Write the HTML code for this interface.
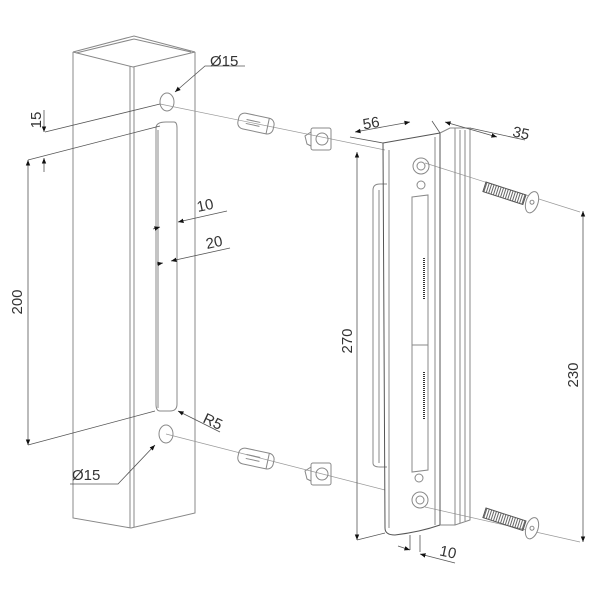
<!DOCTYPE html>
<html><head><style>body{margin:0;background:#fff}svg{display:block}text{font-family:"Liberation Sans",sans-serif;font-size:15px;fill:#333}</style></head>
<body>
<svg width="600" height="600" viewBox="0 0 600 600" xmlns="http://www.w3.org/2000/svg">
<defs><marker id="a" viewBox="0 0 10 10" refX="10" refY="5" markerWidth="7" markerHeight="7" orient="auto-start-reverse"><path d="M0,1 L10,5 L0,9z" fill="#111"/></marker>
<pattern id="th" width="2.5" height="10" patternUnits="userSpaceOnUse"><path d="M1,0 L1,10" stroke="#555" stroke-width="0.9"/></pattern></defs>
<g fill="none" stroke="#888" stroke-width="1">
<path d="M73,52 L134,36 L195,52 L133,67 Z M76,53 L134,39 L191,52"/>
<path d="M73,52 L73,518 L131,528 L195,513 L195,52"/>
<path d="M130,66 L130,528 M134,67 L134,527"/>
<path d="M156,128 Q156,122 166,122 L174,122 Q177,122 177,128 L177,404 Q177,411 170,411 L160,411 Q156,411 156,404 Z"/>
<path d="M158,130 L158,408"/>
<ellipse cx="167" cy="102" rx="7" ry="9"/>
<ellipse cx="166" cy="434" rx="7" ry="9"/>
<path stroke="#999" stroke-width="0.7" d="M160,104 L385,150 M166,434 L385,490 M425,163 L580,212 M425,507 L580,542"/>
<g transform="translate(240,112) rotate(12)"><rect x="0" y="0" width="36" height="16" rx="6"/><path d="M8,6 L22,6 M8,10 L22,10 M30,0 L30,16"/></g>
<g transform="translate(240,447) rotate(12)"><rect x="0" y="0" width="36" height="16" rx="6"/><path d="M8,6 L22,6 M8,10 L22,10 M30,0 L30,16"/></g>
<g transform="translate(305,128)"><rect x="6" y="0" width="20" height="22" rx="2"/><circle cx="17" cy="11" r="6"/><path d="M6,4 L0,8 L2,16 L6,18"/></g>
<g transform="translate(305,463)"><rect x="6" y="0" width="20" height="22" rx="2"/><circle cx="17" cy="11" r="6"/><path d="M6,4 L0,8 L2,16 L6,18"/></g>
<path d="M373,190 Q373,184 380,184 L387,184 M373,190 L373,463 Q373,467 380,467 L387,467"/>
<path d="M379,190 L379,463"/>
<path d="M383,143 L440,133 L440,525 Q420,532 395,535 Q385,535 385,528 Z" stroke="#555"/>
<path d="M389,150 L389,528 M435,137 L435,525"/>
<path d="M440,133 L450,128 L470,128 L470,520 L455,525 L440,525"/>
<path d="M455,128 L455,525 M460,130 L460,523 M465,130 L465,521"/>
<path d="M412,197 L428,195 L428,470 L412,472 Z M412,345 L428,345"/>
<path d="M424,258 L424,300 M424,372 L424,420" stroke="#333" stroke-width="2" stroke-dasharray="1,1"/>
<circle cx="421" cy="166" r="8"/><circle cx="421" cy="166" r="4"/><circle cx="421" cy="185" r="4"/>
<circle cx="420" cy="500" r="8"/><circle cx="420" cy="500" r="4"/><circle cx="419" cy="478" r="4"/>
<g transform="translate(486,182) rotate(18)"><rect x="0" y="0" width="42" height="10" fill="url(#th)" stroke="#555"/><ellipse cx="50" cy="5" rx="6" ry="11" fill="#fff"/><circle cx="50" cy="5" r="2"/></g>
<g transform="translate(486,508) rotate(18)"><rect x="0" y="0" width="42" height="10" fill="url(#th)" stroke="#555"/><ellipse cx="50" cy="5" rx="6" ry="11" fill="#fff"/><circle cx="50" cy="5" r="2"/></g>
</g>
<g fill="none" stroke="#555" stroke-width="0.8">
<path d="M45,132 L160,104 M28,160 L160,126 M28,445 L155,411"/>
<path d="M44,110 L44,132" marker-end="url(#a)"/>
<path d="M44,172 L44,158" marker-end="url(#a)"/>
<path d="M28,445 L28,160" marker-end="url(#a)" marker-start="url(#a)"/>
<path d="M245,66 L205,66 L175,92" marker-end="url(#a)"/>
<path d="M70,484 L118,484 L155,445" marker-end="url(#a)"/>
<path d="M220,432 L178,411" marker-end="url(#a)"/>
<path d="M227,211 L178,222" marker-end="url(#a)"/>
<path d="M153,229 L160,227" marker-end="url(#a)"/>
<path d="M230,248 L171,261" marker-end="url(#a)"/>
<path d="M157,264 L163,263" marker-end="url(#a)"/>
<path d="M350,137 L383,143 M432,121 L440,133 M470,128 L525,140"/>
<path d="M355,132 L410,122" marker-end="url(#a)" marker-start="url(#a)"/>
<path d="M445,122 L497,137" marker-start="url(#a)" marker-end="url(#a)"/>
<path d="M357,540 L357,152" marker-end="url(#a)" marker-start="url(#a)"/>
<path d="M357,540 L385,533"/>
<path d="M583,542 L583,211" marker-end="url(#a)" marker-start="url(#a)"/>
<path d="M410,535 L410,550 M420,535 L420,552"/>
<path d="M398,546 L410,550" marker-end="url(#a)"/>
<path d="M455,563 L420,554" marker-end="url(#a)"/>
</g>
<text x="210" y="66">Ø15</text>
<text x="72" y="480">Ø15</text>
<text x="198" y="212" transform="rotate(-12 198 212)">10</text>
<text x="207" y="249" transform="rotate(-12 207 249)">20</text>
<text x="202" y="422" transform="rotate(25 202 422)">R5</text>
<text x="41" y="120" transform="rotate(-90 41 120)" text-anchor="middle">15</text>
<text x="22" y="302" transform="rotate(-90 22 302)" text-anchor="middle">200</text>
<text x="352" y="341" transform="rotate(-90 352 341)" text-anchor="middle">270</text>
<text x="578" y="375" transform="rotate(-90 578 375)" text-anchor="middle">230</text>
<text x="372" y="128" transform="rotate(-10 372 128)" text-anchor="middle">56</text>
<text x="520" y="138" transform="rotate(12 520 138)" text-anchor="middle">35</text>
<text x="447" y="557" transform="rotate(12 447 557)" text-anchor="middle">10</text>
</svg>
</body></html>
